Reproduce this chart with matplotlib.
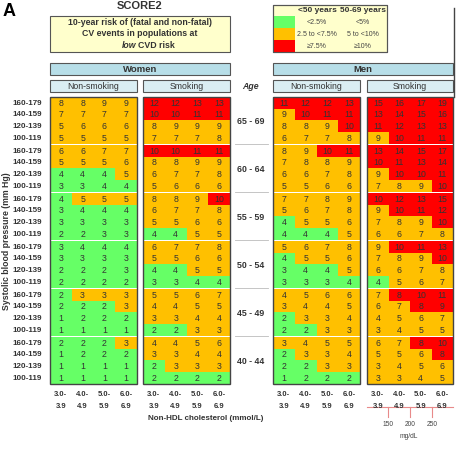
import matplotlib.pyplot as plt
from matplotlib.patches import Rectangle
import numpy as np

plt.rcParams['font.family'] = ['Liberation Sans', 'DejaVu Sans']

ages = ["65 - 69", "60 - 64", "55 - 59", "50 - 54", "45 - 49", "40 - 44"]
age_low = [65, 60, 55, 50, 45, 40]
sbp_labels = ["160-179", "140-159", "120-139", "100-119"]
chol_labels = ["3.0-\n3.9", "4.0-\n4.9", "5.0-\n5.9", "6.0-\n6.9"]
mgdl_ticks = [150, 200, 250]

women_ns = [
    [8, 8, 9, 9], [7, 7, 7, 7], [5, 6, 6, 6], [5, 5, 5, 5],
    [6, 6, 7, 7], [5, 5, 5, 6], [4, 4, 4, 5], [3, 3, 4, 4],
    [4, 5, 5, 5], [3, 4, 4, 4], [3, 3, 3, 3], [2, 2, 3, 3],
    [3, 4, 4, 4], [3, 3, 3, 3], [2, 2, 2, 3], [2, 2, 2, 2],
    [2, 3, 3, 3], [2, 2, 2, 3], [1, 2, 2, 2], [1, 1, 1, 1],
    [2, 2, 2, 3], [1, 2, 2, 2], [1, 1, 1, 1], [1, 1, 1, 1],
]
women_s = [
    [12, 12, 13, 13], [10, 10, 11, 11], [8, 9, 9, 9], [7, 7, 7, 8],
    [10, 10, 11, 11], [8, 8, 9, 9], [6, 7, 7, 8], [5, 6, 6, 6],
    [8, 8, 9, 10], [6, 7, 7, 8], [5, 5, 6, 6], [4, 4, 5, 5],
    [6, 7, 7, 8], [5, 5, 6, 6], [4, 4, 5, 5], [3, 3, 4, 4],
    [5, 5, 6, 7], [4, 4, 5, 5], [3, 3, 4, 4], [2, 2, 3, 3],
    [4, 4, 5, 6], [3, 3, 4, 4], [2, 3, 3, 3], [2, 2, 2, 2],
]
men_ns = [
    [11, 12, 12, 13], [9, 10, 11, 11], [8, 8, 9, 10], [6, 7, 7, 8],
    [8, 9, 10, 11], [7, 8, 8, 9], [6, 6, 7, 8], [5, 5, 6, 6],
    [7, 7, 8, 9], [5, 6, 7, 8], [4, 5, 5, 6], [4, 4, 4, 5],
    [5, 6, 7, 8], [4, 5, 5, 6], [3, 4, 4, 5], [3, 3, 3, 4],
    [4, 5, 6, 6], [3, 4, 4, 5], [2, 3, 3, 4], [2, 2, 3, 3],
    [3, 4, 5, 5], [2, 3, 3, 4], [2, 2, 3, 3], [1, 2, 2, 2],
]
men_s = [
    [15, 16, 17, 19], [13, 14, 15, 16], [11, 12, 13, 13], [9, 10, 11, 11],
    [13, 14, 15, 17], [10, 11, 13, 14], [9, 10, 10, 11], [7, 8, 9, 10],
    [10, 12, 13, 15], [9, 10, 11, 12], [7, 8, 9, 10], [6, 6, 7, 8],
    [9, 10, 11, 13], [7, 8, 9, 10], [6, 6, 7, 8], [4, 5, 6, 7],
    [7, 8, 10, 11], [6, 7, 8, 9], [4, 5, 6, 7], [3, 4, 5, 5],
    [6, 7, 8, 10], [5, 5, 6, 8], [3, 4, 5, 6], [3, 3, 4, 5],
]

GREEN, ORANGE, RED = '#66FF66', '#FFC000', '#FF0000'
BLUE, LBLUE, CREAM = '#B7DEE8', '#DAEEF3', '#FFFFCC'


def risk_colour(v, age):
    lo, hi = (2.5, 7.5) if age < 50 else (5, 10)
    if v < lo:
        return GREEN
    if v < hi:
        return ORANGE
    return RED


fig = plt.figure(figsize=(4.7, 4.57), dpi=100)
ax = fig.add_axes([0, 0, 1, 1])
ax.set_xlim(0, 470)
ax.set_ylim(457, 0)
ax.axis('off')

top, group_h, gap = 97, 48, 1.5
row_h = (group_h - gap) / 4


def box(x0, y0, x1, y1, fc, lw=0.8, ec='#555555'):
    ax.add_patch(Rectangle((x0, y0), x1 - x0, y1 - y0, fc=fc, ec=ec, lw=lw))


def panel(data, x0, x1):
    cw = (x1 - x0) / 4
    for g in range(6):
        gy = top + g * group_h
        for r in range(4):
            y = gy + r * row_h
            for c, v in enumerate(data[g * 4 + r]):
                x = x0 + c * cw
                ax.add_patch(Rectangle((x, y), cw, row_h, fc=risk_colour(v, age_low[g]), lw=0))
                ax.text(x + cw / 2, y + row_h / 2 + 0.5, str(v), ha='center', va='center',
                        fontsize=6.3, color='#333333')
        if g < 5:
            ax.add_patch(Rectangle((x0 - 1, gy + group_h - gap), x1 - x0 + 2, gap, fc='white', lw=0))
    ax.add_patch(Rectangle((x0, top), x1 - x0, 6 * group_h - gap, fc='none', ec='#444444', lw=1))
    for c, lab in enumerate(chol_labels):
        ax.text(x0 + c * cw + cw / 2, top + 6 * group_h + 6, lab, ha='center', va='top',
                fontsize=5.5, fontweight='bold', color='#333333', linespacing=1.9)


panels = [(women_ns, 50, 137), (women_s, 143, 230), (men_ns, 273, 360), (men_s, 367, 453)]
for data, x0, x1 in panels:
    panel(data, x0, x1)

# row labels and age labels
for g in range(6):
    gy = top + g * group_h
    for r, lab in enumerate(sbp_labels):
        ax.text(42, gy + r * row_h + row_h / 2 + 0.5, lab, ha='right', va='center',
                fontsize=5.8, fontweight='bold', color='#333333')
    ax.text(251, gy + group_h / 2, ages[g], ha='center', va='center',
            fontsize=6.3, fontweight='bold', color='#333333')
    if g < 5:
        ax.plot([235, 268], [gy + group_h - gap / 2] * 2, color='#bbbbbb', lw=0.6)
ax.text(7, top + 3 * group_h, "Systolic blood pressure (mm Hg)", rotation=90, ha='center',
        va='center', fontsize=6.3, fontweight='bold', color='#333333')

# headers
box(50, 63, 230, 75, BLUE)
box(273, 63, 453, 75, BLUE)
ax.text(140, 69, "Women", ha='center', va='center', fontsize=6.8, fontweight='bold', color='#333333')
ax.text(363, 69, "Men", ha='center', va='center', fontsize=6.8, fontweight='bold', color='#333333')
for (x0, x1), lab in zip([(50, 137), (143, 230), (273, 360), (367, 453)],
                         ["Non-smoking", "Smoking", "Non-smoking", "Smoking"]):
    box(x0, 80, x1, 92, LBLUE)
    ax.text((x0 + x1) / 2, 86.5, lab, ha='center', va='center', fontsize=6.3, color='#333333')
ax.text(250, 86.5, "Age", ha='center', va='center', fontsize=6.3, fontweight='bold',
        style='italic', color='#333333')
ax.plot([454, 454], [8, top], color='#444444', lw=1)

# title and info box
ax.text(3, 11, "A", ha='left', va='center', fontsize=13, fontweight='bold')
ax.text(140, 6, "SCORE2", ha='center', va='center', fontsize=8, fontweight='bold', color='#333333')
box(50, 16, 230, 52, CREAM)
ax.text(140, 22.5, "10-year risk of (fatal and non-fatal)", ha='center', va='center',
        fontsize=6.3, fontweight='bold', color='#333333')
ax.text(140, 34, "CV events in populations at", ha='center', va='center',
        fontsize=6.3, fontweight='bold', color='#333333')
ax.text(138, 46, "CVD risk", ha='left', va='center', fontsize=6.3, fontweight='bold', color='#333333')
ax.text(136, 46, "low", ha='right', va='center', fontsize=6.3, fontweight='bold',
        style='italic', color='#333333')

# legend
box(273, 5, 387, 52, CREAM)
for (y0, y1), col, a, b in zip([(16, 28), (28, 40), (40, 52)], [GREEN, ORANGE, RED],
                               ["<2.5%", "2.5 to <7.5%", "\u22657.5%"], ["<5%", "5 to <10%", "\u226510%"]):
    ax.add_patch(Rectangle((273, y0), 22, y1 - y0, fc=col, lw=0))
    ax.text(317, (y0 + y1) / 2, a, ha='center', va='center', fontsize=5, color='#444444')
    ax.text(363, (y0 + y1) / 2, b, ha='center', va='center', fontsize=5, color='#444444')
box(273, 5, 387, 52, 'none')
ax.text(317, 10.5, "<50 years", ha='center', va='center', fontsize=6, fontweight='bold', color='#333333')
ax.text(363, 10.5, "50-69 years", ha='center', va='center', fontsize=6, fontweight='bold', color='#333333')

# x axis title and mg/dL scale
ax.text(206, 418, "Non-HDL cholesterol (mmol/L)", ha='center', va='center',
        fontsize=5.8, fontweight='bold', color='#333333')
ax.plot([367, 453], [407, 407], color='#E88A8A', lw=0.8)
for t, x in zip(mgdl_ticks, [388, 410, 432]):
    ax.plot([x, x], [407, 417], color='#E88A8A', lw=0.8)
    ax.text(x, 424, str(t), ha='center', va='center', fontsize=4.8, color='#444444')
ax.text(409, 436, "mg/dL", ha='center', va='center', fontsize=4.8, color='#444444')

fig.savefig("out.png", dpi=100)
